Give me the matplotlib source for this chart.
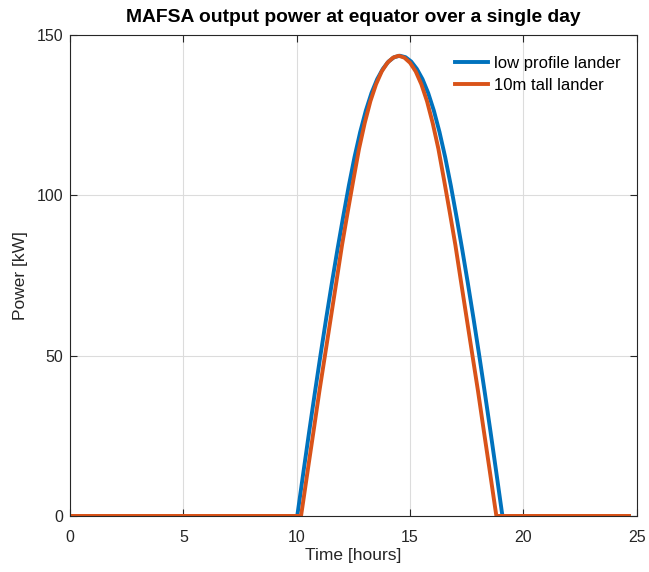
import matplotlib
matplotlib.use("Agg")
import matplotlib.pyplot as plt

plt.rcParams['font.family'] = ['Liberation Sans', 'DejaVu Sans']

# Time [hours] and power [kW]
t_low = [0, 10.02, 10.05, 10.30, 10.55, 10.80, 11.05, 11.30, 11.55, 11.80, 12.05,
         12.30, 12.55, 12.80, 13.05, 13.30, 13.55, 13.80, 14.05, 14.30, 14.55,
         14.80, 15.05, 15.30, 15.55, 15.80, 16.05, 16.30, 16.55, 16.80, 17.05,
         17.30, 17.55, 17.80, 18.05, 18.30, 18.55, 18.80, 19.05, 19.08, 24.66]
p_low = [0, 0, 1.3, 13.9, 26.3, 38.4, 50.2, 61.6, 72.6, 83.2, 93.3,
         103.0, 111.9, 119.7, 126.4, 131.9, 136.2, 139.4, 141.7, 143.05, 143.5,
         143.05, 141.7, 139.4, 136.2, 131.9, 126.4, 119.7, 111.9, 103.0, 93.3,
         83.2, 72.6, 61.6, 50.2, 38.4, 26.3, 13.9, 1.3, 0, 0]

t_tall = [0, 10.19, 10.25, 10.50, 10.75, 11.00, 11.25, 11.50, 11.75, 12.00, 12.25,
          12.50, 12.75, 13.00, 13.25, 13.50, 13.75, 14.00, 14.25, 14.50,
          14.75, 15.00, 15.25, 15.50, 15.75, 16.00, 16.25, 16.50, 16.75, 17.00,
          17.25, 17.50, 17.75, 18.00, 18.25, 18.50, 18.75, 18.81, 24.66]
p_tall = [0, 0, 2.8, 14.9, 26.8, 38.9, 50.2, 61.6, 73.0, 84.5, 94.8,
          104.8, 114.5, 122.5, 129.3, 134.6, 138.6, 141.3, 142.9, 143.5,
          142.9, 141.3, 138.6, 134.6, 129.3, 122.5, 114.5, 104.8, 94.8, 84.5,
          73.0, 61.6, 50.2, 38.9, 26.8, 14.9, 2.8, 0, 0]

series_labels = ['low profile lander', '10m tall lander']
title = 'MAFSA output power at equator over a single day'
xlabel = 'Time [hours]'
ylabel = 'Power [kW]'
xticks = [0, 5, 10, 15, 20, 25]
yticks = [0, 50, 100, 150]

fig = plt.figure(figsize=(6.49, 5.72), dpi=100)
ax = fig.add_axes([0.108, 0.098, 0.873, 0.841])

ax.plot(t_low, p_low, color='#0072BD', lw=2.8, label=series_labels[0],
        solid_joinstyle='round')
ax.plot(t_tall, p_tall, color='#D95319', lw=2.8, label=series_labels[1],
        solid_joinstyle='round')

ax.set_xlim(0, 25)
ax.set_ylim(0, 150)
ax.set_xticks(xticks)
ax.set_yticks(yticks)
ax.grid(True, color='#dcdcdc', lw=0.8)
ax.set_axisbelow(True)
for s in ax.spines.values():
    s.set_color('#262626')
    s.set_linewidth(0.8)
ax.tick_params(direction='in', top=True, right=True, length=5, width=0.8,
               colors='#262626', labelsize=11.5)
ax.tick_params(axis='x', pad=10)
ax.tick_params(axis='y', pad=5)
ax.set_xlabel(xlabel, fontsize=12.5, color='#262626', labelpad=2)
ax.set_ylabel(ylabel, fontsize=12.5, color='#262626', labelpad=6)
ax.set_title(title, fontsize=13.9, fontweight='bold', color='black', pad=9)

leg = ax.legend(loc='upper right', bbox_to_anchor=(0.984, 0.971), borderaxespad=0,
                frameon=False, fontsize=12, handlelength=2.0,
                handletextpad=0.35, labelspacing=0.42)

fig.savefig('out.png', dpi=100)
